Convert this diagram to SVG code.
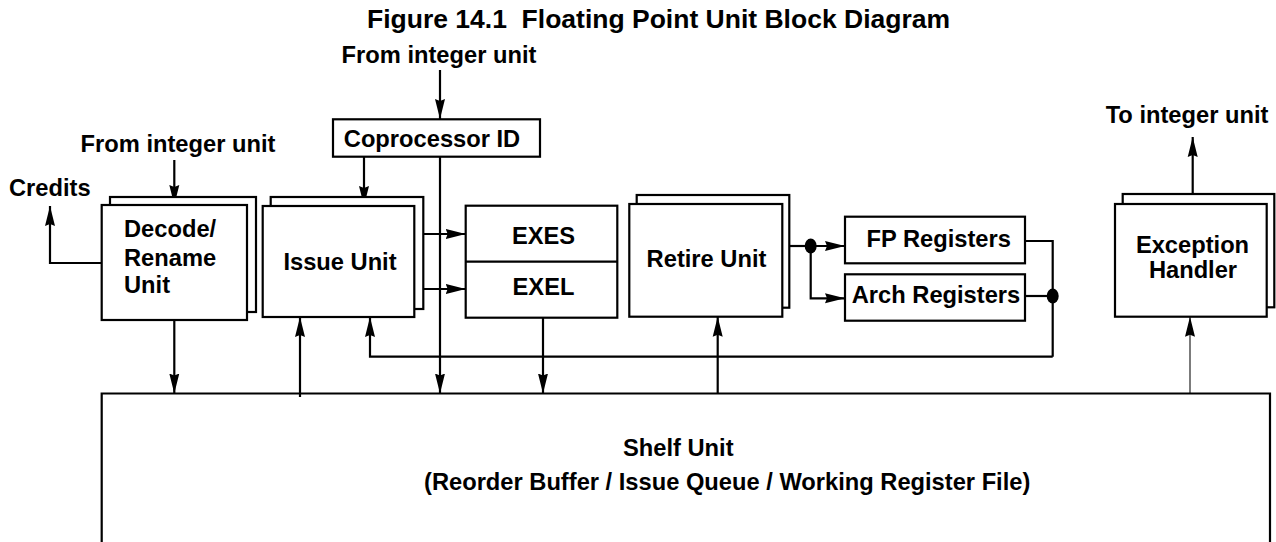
<svg xmlns="http://www.w3.org/2000/svg" width="1276" height="542" viewBox="0 0 1276 542">
<defs>
<marker id="ah" markerUnits="userSpaceOnUse" markerWidth="20" markerHeight="11" refX="20" refY="5.5" orient="auto">
<path d="M0,0.5 L20,5.5 L0,10.5 L2,5.5 z" fill="#000"/>
</marker>
<style>
text{font-family:"Liberation Sans",Arial,Helvetica,sans-serif;font-weight:bold;font-size:23.7px;fill:#000}
.title{font-size:26.5px}
.mid{text-anchor:middle}
.box{fill:#fff;stroke:#000;stroke-width:2.2}
.ln{fill:none;stroke:#000;stroke-width:2.2}
.arr{fill:none;stroke:#000;stroke-width:2.2;marker-end:url(#ah)}
.thin{fill:none;stroke:#444;stroke-width:1.4;marker-end:url(#ah)}
</style>
</defs>
<rect width="1276" height="542" fill="#fff"/>
<text class="title mid" x="658.5" y="28" xml:space="preserve">Figure 14.1  Floating Point Unit Block Diagram</text>
<text class="mid" x="439" y="63">From integer unit</text>
<text class="mid" x="178" y="152">From integer unit</text>
<text x="9" y="196">Credits</text>
<text class="mid" x="1187" y="123">To integer unit</text>

<g id="connectors">
<path class="arr" d="M440,70 V119"/>
<path class="arr" d="M174.3,160 V205"/>
<path class="arr" d="M364,157 V206"/>
<path class="arr" d="M440,157 V393.5"/>
<path class="arr" d="M101.7,263 H50 V206"/>
<path class="arr" d="M174.3,320 V393.5"/>
<path class="arr" d="M300,397 V317"/>
<path class="arr" d="M423.3,234 H465.7"/>
<path class="arr" d="M414.3,289 H465.7"/>
<path class="arr" d="M543,317.7 V393.5"/>
<path class="arr" d="M717.7,393.5 V316.7"/>
<path class="ln" d="M789.3,246 H810.7"/>
<path class="arr" d="M810.7,246 H845"/>
<path class="arr" d="M810.7,246 V298.3 H845"/>
<ellipse cx="810.7" cy="246" rx="6" ry="7.5" fill="#000"/>
<path class="ln" d="M1025,241 H1052.7 V356.7"/>
<path class="ln" d="M1025,296 H1052.7"/>
<ellipse cx="1052.7" cy="296" rx="6" ry="7.5" fill="#000"/>
<path class="arr" d="M1052.7,356.7 H370 V317"/>
<path class="arr" d="M1192.7,204 V137"/>
<path class="thin" d="M1190,393.5 V316.7"/>
</g>

<g id="coprocessor">
<rect class="box" x="333" y="119.3" width="207" height="37.4"/>
<text class="mid" x="432" y="146.7">Coprocessor ID</text>
</g>
<g id="decode">
<rect class="box" x="110" y="197" width="146" height="115"/>
<rect class="box" x="101.7" y="205" width="145.3" height="115"/>
<text x="124" y="237">Decode/</text>
<text x="124" y="265.5">Rename</text>
<text x="124" y="293">Unit</text>
</g>
<g id="issue">
<rect class="box" x="270.7" y="197" width="152.6" height="112"/>
<rect class="box" x="262.7" y="206" width="151.6" height="111"/>
<text class="mid" x="340" y="270">Issue Unit</text>
</g>
<g id="exe">
<rect class="box" x="465.7" y="205.7" width="151.6" height="112"/>
<path class="ln" d="M465.7,261.7 H617.3"/>
<text class="mid" x="543.5" y="244">EXES</text>
<text class="mid" x="543.5" y="294.5">EXEL</text>
</g>
<g id="retire">
<rect class="box" x="636.7" y="195" width="152.6" height="112.7"/>
<rect class="box" x="629.3" y="204" width="153" height="112.7"/>
<text class="mid" x="706.5" y="267">Retire Unit</text>
</g>
<g id="fpregs">
<rect class="box" x="845" y="216.7" width="180" height="46.6"/>
<text class="mid" x="938.7" y="246.7">FP Registers</text>
</g>
<g id="archregs">
<rect class="box" x="845" y="274.3" width="180" height="46.4"/>
<text class="mid" x="936" y="303.3">Arch Registers</text>
</g>
<g id="exception">
<rect class="box" x="1122.7" y="194" width="151.6" height="113.3"/>
<rect class="box" x="1115" y="204" width="151.7" height="112.7"/>
<text class="mid" x="1192.5" y="252.7">Exception</text>
<text class="mid" x="1193" y="278.3">Handler</text>
</g>
<g id="shelf">
<path class="ln" d="M101.7,545 V393.5 H1270 V545"/>
<text x="623" y="456">Shelf Unit</text>
<text x="424" y="490">(Reorder Buffer / Issue Queue / Working Register File)</text>
</g>
</svg>
